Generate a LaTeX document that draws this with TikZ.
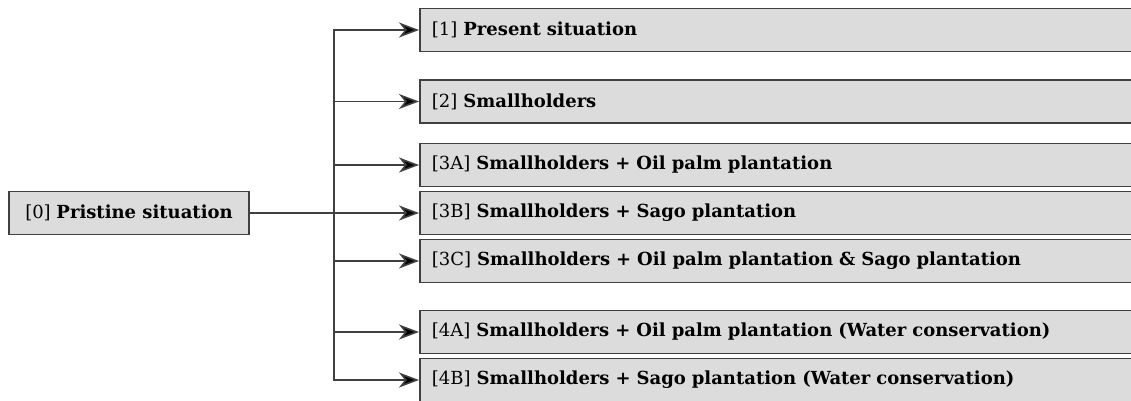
\documentclass[tikz,border=0pt]{standalone}
\usepackage{amsmath}
\usepackage{fontspec}
\setmainfont{DejaVu Serif}
\usepackage{tikz}
\usetikzlibrary{arrows.meta, positioning}

\definecolor{boxfill}{RGB}{220,220,220}
\definecolor{boxline}{RGB}{64,64,64}

\tikzset{
  scen/.style={draw=boxline, line width=1.8pt, fill=boxfill, anchor=west,
    minimum height=43pt, text width=700pt, inner xsep=12pt, align=left,
    font=\fontsize{18}{21}\selectfont},
  root/.style={draw=boxline, line width=1.8pt, fill=boxfill,
    minimum height=43pt, minimum width=240pt, inner sep=0pt,
    font=\fontsize{18}{21}\selectfont},
  conn/.style={-{Stealth[length=20pt, width=15pt, inset=6pt, fill=black]},
    line width=1.6pt, draw=boxline}
}

\begin{document}
\begin{tikzpicture}[x=1pt, y=-1pt, auto]
          \useasboundingbox (0,0) rectangle (1131,401);
          \node (n0) [root] at (129,213) {[0] \textbf{Pristine situation}};

          \node (n1) [scen] at (419,30) {[1] \textbf{Present situation}};
          \node (n2) [scen] at (419,101.5) {[2] \textbf{Smallholders}};
          \node (n3a) [scen] at (419,165) {[3A] \textbf{Smallholders + Oil palm plantation}};
          \node (n3b) [scen] at (419,213) {[3B] \textbf{Smallholders + Sago plantation}};
          \node (n3c) [scen] at (419,261) {[3C] \textbf{Smallholders + Oil palm plantation \& Sago plantation}};
          \node (n4a) [scen] at (419,332) {[4A] \textbf{Smallholders + Oil palm plantation (Water conservation)}};
          \node (n4b) [scen] at (419,380) {[4B] \textbf{Smallholders + Sago plantation (Water conservation)}};

          \coordinate (split) at (334,213);

          \draw [conn] (n0) -- (n3b);
          \foreach \n in {n1,n2,n3a,n3c,n4a,n4b}
              \draw [conn] (split) |- (\n);
      \end{tikzpicture}
\end{document}
